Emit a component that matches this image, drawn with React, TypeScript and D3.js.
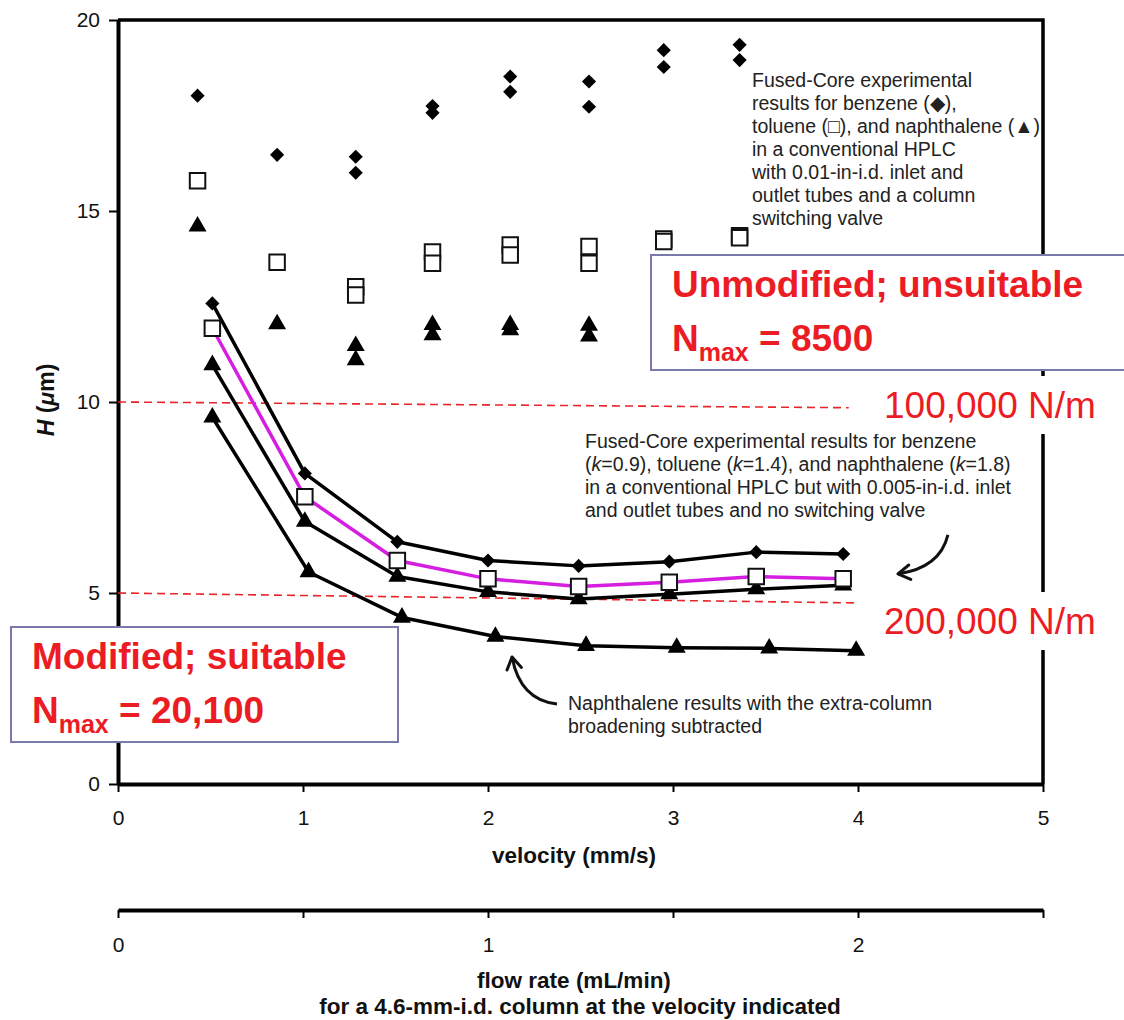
import React, { useRef, useEffect } from 'react';
import * as d3 from 'd3';

// axis ticks
const velocityTicks = [0, 1, 2, 3, 4, 5];
const hTicks = [0, 5, 10, 15, 20];
const flowTicks = [0, 0.5, 1, 1.5, 2, 2.5];
const flowLabelled = [0, 1, 2];

// unmodified system: scatter only, [velocity, H]
const unmodBenzene = [
  [0.43, 18.02], [0.86, 16.47], [1.285, 16.42], [1.285, 16.0], [1.7, 17.75], [1.7, 17.57],
  [2.12, 18.52], [2.12, 18.12], [2.546, 18.39], [2.546, 17.73], [2.95, 19.21], [2.95, 18.77],
  [3.36, 19.35], [3.36, 18.95],
];
const unmodToluene = [
  [0.43, 15.79], [0.86, 13.66], [1.285, 13.02], [1.285, 12.8], [1.7, 13.93], [1.7, 13.63],
  [2.12, 14.11], [2.12, 13.85], [2.546, 14.07], [2.546, 13.63], [2.95, 14.27], [2.95, 14.2],
  [3.36, 14.35], [3.36, 14.3],
];
const unmodNaphthalene = [
  [0.43, 14.6], [0.86, 12.04], [1.285, 11.47], [1.285, 11.1], [1.7, 12.02], [1.7, 11.75],
  [2.12, 12.02], [2.12, 11.88], [2.546, 12.0], [2.546, 11.72], [2.95, 11.9], [3.36, 11.9],
];

// modified system: lines with markers
const modVelocity = [0.51, 1.01, 1.51, 2.0, 2.49, 2.98, 3.45, 3.92];
const modBenzene = [12.58, 8.13, 6.34, 5.85, 5.71, 5.82, 6.07, 6.02];
const modToluene = [11.93, 7.52, 5.85, 5.37, 5.17, 5.28, 5.43, 5.37];
const modNaphthalene = [10.97, 6.87, 5.43, 5.03, 4.84, 4.97, 5.1, 5.2];
const subVelocity = [0.51, 1.03, 1.535, 2.04, 2.53, 3.02, 3.52, 3.99];
const subNaphthalene = [9.6, 5.55, 4.36, 3.86, 3.62, 3.57, 3.55, 3.49];

// plate-number reference lines (slightly sloped in the original)
const ref100k = [[0, 10], [3.95, 9.85]];
const ref200k = [[0, 5], [4, 4.74]];

// curved arrows: start, control, tip (data units)
const arrowRight = [[4.486, 6.52], [4.443, 5.654], [4.216, 5.5]];
const arrowLower = [[2.373, 2.094], [2.173, 2.199], [2.13, 3.325]];

const FONT = "'Liberation Sans', Arial, Helvetica, sans-serif";
const RED = '#ec1c24';

const App = () => {
  const svgRef = useRef<SVGSVGElement>(null);

  useEffect(() => {
    document.body.style.margin = '0';
    const svg = d3.select(svgRef.current);
    svg.selectAll('*').remove();

    const x = d3.scaleLinear().domain([0, 5]).range([118, 1043]);
    const y = d3.scaleLinear().domain([0, 20]).range([784, 20]);
    const flow = d3.scaleLinear().domain([0, 2.5]).range([118, 1043]);

    svg.append('rect').attr('width', 1124).attr('height', 1020).attr('fill', '#fff');

    // frame top + right
    svg.append('path')
      .attr('d', `M${x(0)},${y(20)}H${x(5)}V${y(0)}`)
      .attr('fill', 'none').attr('stroke', '#000').attr('stroke-width', 3.5);

    const styleAxis = (g, w) => {
      g.select('.domain').attr('stroke-width', w);
      g.selectAll('.tick line').attr('stroke-width', 2);
      g.selectAll('.tick text').attr('font-size', 21).attr('font-family', FONT).attr('fill', '#111');
    };

    svg.append('g')
      .attr('transform', `translate(${x(0)},0)`)
      .call(d3.axisLeft(y).tickValues(hTicks).tickSize(9).tickSizeOuter(0).tickPadding(9))
      .call(g => styleAxis(g, 4));

    svg.append('g')
      .attr('transform', `translate(0,${y(0)})`)
      .call(d3.axisBottom(x).tickValues(velocityTicks).tickSize(8).tickSizeOuter(0).tickPadding(18)
        .tickFormat(d3.format('d')))
      .call(g => styleAxis(g, 4));

    svg.append('g')
      .attr('transform', 'translate(0,910)')
      .call(d3.axisBottom(flow).tickValues(flowTicks).tickSize(8).tickSizeOuter(0).tickPadding(19)
        .tickFormat(d => (flowLabelled.includes(+d) ? String(d) : '')))
      .call(g => styleAxis(g, 4));

    // axis titles
    const title = (tx, ty, text) => svg.append('text')
      .attr('x', tx).attr('y', ty).attr('text-anchor', 'middle')
      .attr('font-family', FONT).attr('font-weight', 'bold').attr('font-size', 22.5).attr('fill', '#111')
      .text(text);
    title(574, 863, 'velocity (mm/s)');
    title(574, 988, 'flow rate (mL/min)');
    title(580, 1014, 'for a 4.6-mm-i.d. column at the velocity indicated');

    const yt = svg.append('text')
      .attr('transform', 'translate(54,400) rotate(-90)')
      .attr('text-anchor', 'middle')
      .attr('font-family', FONT).attr('font-weight', 'bold').attr('font-size', 23).attr('fill', '#111');
    yt.append('tspan').attr('font-style', 'italic').text('H');
    yt.append('tspan').text(' (');
    yt.append('tspan').attr('font-style', 'italic').text('μ');
    yt.append('tspan').text('m)');

    // red dashed reference lines
    const refLine = d3.line().x(d => x(d[0])).y(d => y(d[1]));
    [ref100k, ref200k].forEach(r => {
      svg.append('path').attr('d', refLine(r)).attr('fill', 'none')
        .attr('stroke', '#e8262a').attr('stroke-width', 1.6).attr('stroke-dasharray', '8,5');
    });

    // modified series lines
    const line = d3.line().x(d => x(d[0])).y(d => y(d[1]));
    const zip = (vs, hs) => vs.map((v, i) => [v, hs[i]]);
    const benz = zip(modVelocity, modBenzene);
    const tol = zip(modVelocity, modToluene);
    const naph = zip(modVelocity, modNaphthalene);
    const sub = zip(subVelocity, subNaphthalene);

    svg.append('path').attr('d', line(tol)).attr('fill', 'none').attr('stroke', '#d61ee0').attr('stroke-width', 3.5);
    [benz, naph, sub].forEach(s => {
      svg.append('path').attr('d', line(s)).attr('fill', 'none').attr('stroke', '#000').attr('stroke-width', 3.5)
        .attr('stroke-linejoin', 'round');
    });

    // markers
    const diamond = d3.symbol().type(d3.symbolSquare).size(100)();
    const square = d3.symbol().type(d3.symbolSquare).size(240)();
    const triangle = d3.symbol().type(d3.symbolTriangle).size(140)();

    const drawDiamonds = pts => svg.append('g').selectAll('path').data(pts).join('path')
      .attr('d', diamond)
      .attr('transform', d => `translate(${x(d[0])},${y(d[1])}) rotate(45)`)
      .attr('fill', '#000');
    const drawSquares = pts => svg.append('g').selectAll('path').data(pts).join('path')
      .attr('d', square)
      .attr('transform', d => `translate(${x(d[0])},${y(d[1])})`)
      .attr('fill', '#fff').attr('stroke', '#111').attr('stroke-width', 2);
    const drawTriangles = pts => svg.append('g').selectAll('path').data(pts).join('path')
      .attr('d', triangle)
      .attr('transform', d => `translate(${x(d[0])},${y(d[1])})`)
      .attr('fill', '#000');

    drawDiamonds(unmodBenzene);
    drawSquares(unmodToluene);
    drawTriangles(unmodNaphthalene);
    drawDiamonds(benz);
    drawTriangles(naph);
    drawTriangles(sub);
    drawSquares(tol);

    // annotation text blocks
    const block = (tx, ty, lines) => {
      const t = svg.append('text').attr('font-family', FONT).attr('font-size', 19.5).attr('fill', '#222');
      lines.forEach((ln, i) => {
        const row = t.append('tspan').attr('x', tx).attr('y', ty + i * 23);
        (Array.isArray(ln) ? ln : [ln]).forEach(part => {
          if (typeof part === 'string') row.append('tspan').text(part);
          else row.append('tspan').attr('font-style', 'italic').text(part.i);
        });
      });
    };
    block(752, 87, [
      'Fused-Core experimental',
      'results for benzene (◆),',
      'toluene (□), and naphthalene (▲)',
      'in a conventional HPLC',
      'with 0.01-in-i.d. inlet and',
      'outlet tubes and a column',
      'switching valve',
    ]);
    block(585, 448, [
      'Fused-Core experimental results for benzene',
      ['(', { i: 'k' }, '=0.9), toluene (', { i: 'k' }, '=1.4), and naphthalene (', { i: 'k' }, '=1.8)'],
      'in a conventional HPLC but with 0.005-in-i.d. inlet',
      'and outlet tubes and no switching valve',
    ]);
    block(568, 710, [
      'Naphthalene results with the extra-column',
      'broadening subtracted',
    ]);

    // curved arrows
    [arrowRight, arrowLower].forEach(a => {
      const [s, c, e] = a.map(p => [x(p[0]), y(p[1])]);
      const p = d3.path();
      p.moveTo(s[0], s[1]);
      p.quadraticCurveTo(c[0], c[1], e[0], e[1]);
      svg.append('path').attr('d', p.toString()).attr('fill', 'none').attr('stroke', '#111').attr('stroke-width', 3);
      const ang = Math.atan2(e[1] - c[1], e[0] - c[0]);
      const head = d3.path();
      [-0.55, 0.55].forEach(da => {
        head.moveTo(e[0], e[1]);
        head.lineTo(e[0] - 14 * Math.cos(ang + da), e[1] - 14 * Math.sin(ang + da));
      });
      svg.append('path').attr('d', head.toString()).attr('fill', 'none').attr('stroke', '#111')
        .attr('stroke-width', 3).attr('stroke-linecap', 'round');
    });

    // plate-number labels
    const plateLabel = (ty, text) => {
      svg.append('rect').attr('x', 872).attr('y', ty - 42).attr('width', 252).attr('height', 58).attr('fill', '#fff');
      svg.append('text').attr('x', 884).attr('y', ty).attr('font-family', FONT).attr('font-size', 37)
        .attr('fill', RED).text(text);
    };
    plateLabel(418, '100,000 N/m');
    plateLabel(634, '200,000 N/m');

    // red boxes
    const box = (bx, by, bw, bh, tx, l1, nmax) => {
      svg.append('rect').attr('x', bx).attr('y', by).attr('width', bw).attr('height', bh)
        .attr('fill', '#fff').attr('stroke', '#7a7aaa').attr('stroke-width', 2);
      const g = svg.append('g').attr('font-family', FONT).attr('font-weight', 'bold').attr('fill', RED);
      g.append('text').attr('x', tx).attr('y', by + 42).attr('font-size', 37).text(l1);
      const t = g.append('text').attr('x', tx).attr('y', by + 96).attr('font-size', 37);
      t.append('tspan').text('N');
      t.append('tspan').attr('font-size', 25).attr('dy', 10).text('max');
      t.append('tspan').attr('dy', -10).text(` = ${nmax}`);
    };
    box(651, 255, 490, 115, 672, 'Unmodified; unsuitable', '8500');
    box(11, 627, 387, 115, 32, 'Modified; suitable', '20,100');
  }, []);

  return <svg ref={svgRef} width={1124} height={1020} style={{ display: 'block' }} />;
};

export default App;
